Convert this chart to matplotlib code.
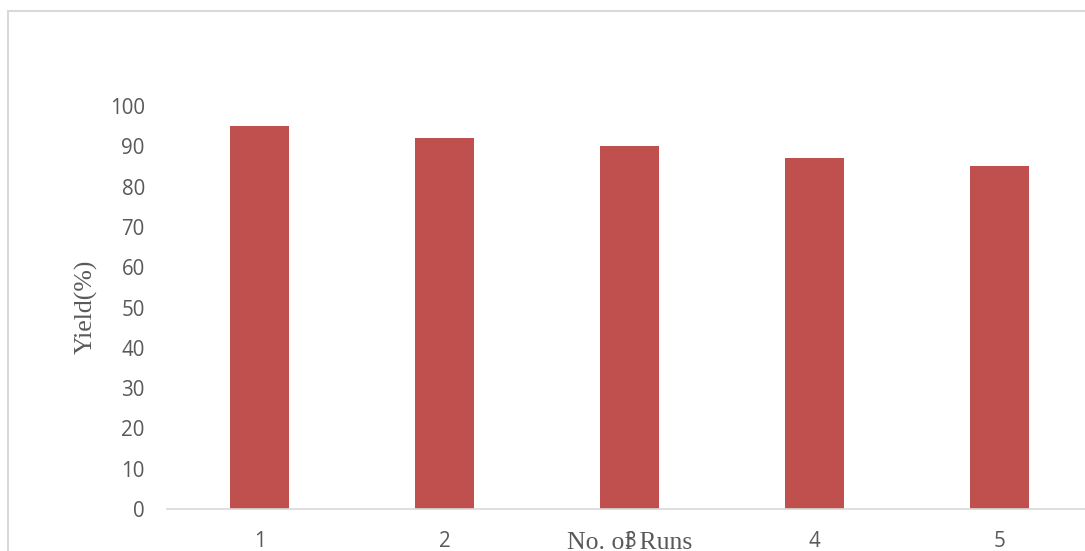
import matplotlib
matplotlib.use("Agg")
import matplotlib.pyplot as plt
from matplotlib.patches import Rectangle

runs = ["1", "2", "3", "4", "5"]
yields = [95, 92, 90, 87, 85]
yticks = [0, 10, 20, 30, 40, 50, 60, 70, 80, 90, 100]

W, H = 1085, 551
fig = plt.figure(figsize=(W / 100, H / 100), dpi=100)
fig.patch.set_facecolor("white")

# outer chart border (extends past the right and bottom edges)
fig.patches.append(Rectangle((8 / W, -0.1), 1.2, (H - 11) / H + 0.1,
                             transform=fig.transFigure, fill=False,
                             edgecolor="#d9d9d9", linewidth=1.5, zorder=0))

left, right = 167 / W, (167 + 5 * 185) / W
bottom, top = (H - 509) / H, (H - 106) / H
ax = fig.add_axes([left, bottom, right - left, top - bottom])
ax.set_facecolor("none")

x = list(range(len(runs)))
ax.bar(x, yields, width=0.314, color="#C0504D", zorder=2)
ax.set_xlim(-0.5, len(runs) - 0.5)
ax.set_ylim(0, 100)
ax.set_yticks(yticks)
ax.set_xticks(x)
ax.set_xticklabels(runs)

for s in ["top", "right", "left"]:
    ax.spines[s].set_visible(False)
ax.spines["bottom"].set_color("#d9d9d9")
ax.spines["bottom"].set_linewidth(1.2)
ax.tick_params(axis="both", length=0, labelsize=14.8, labelcolor="#595959",
               labelfontfamily="Open Sans")
ax.tick_params(axis="y", pad=16)
ax.tick_params(axis="x", pad=16)

fig.text(630 / W, (H - 549.3) / H, "No. of Runs", ha="center", va="baseline",
         fontsize=18.5, family="Liberation Serif", color="#595959")
fig.text(86 / W, (H - 307) / H, "Yield(%)", ha="center", va="center",
         rotation=90, fontsize=18.5, family="Liberation Serif", color="#595959")

fig.savefig("out.png", dpi=100, facecolor="white")
